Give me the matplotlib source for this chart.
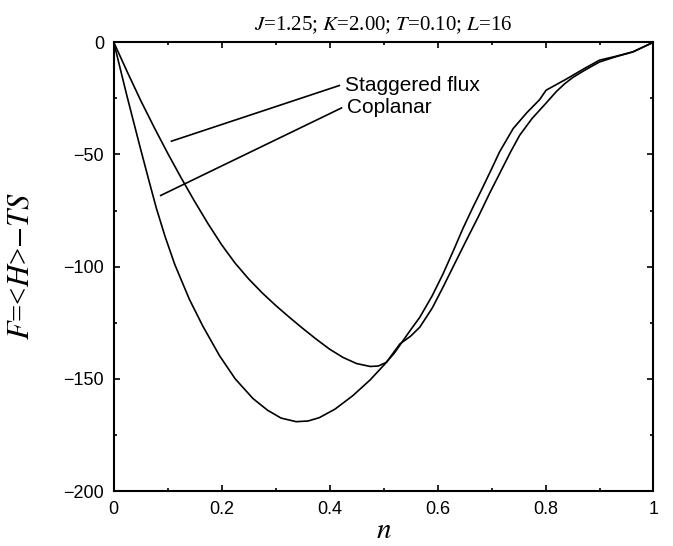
import numpy as np
import matplotlib
matplotlib.use("Agg")
import matplotlib.pyplot as plt
from matplotlib.ticker import MultipleLocator

plt.rcParams['font.family'] = ['Liberation Sans', 'DejaVu Sans']
plt.rcParams['mathtext.fontset'] = 'stix'

# free energy curves
n_stag = [0.0, 0.025, 0.05, 0.075, 0.10, 0.125, 0.15, 0.175, 0.20, 0.225,
          0.25, 0.275, 0.30, 0.325, 0.35, 0.375, 0.40, 0.425, 0.45, 0.475,
          0.49, 0.505, 0.53, 0.55, 0.567, 0.59, 0.61, 0.63, 0.653, 0.675,
          0.696, 0.715, 0.735, 0.752, 0.775, 0.80, 0.82, 0.835, 0.85, 0.869,
          0.885, 0.90, 0.93, 0.962, 1.0]
F_stag = [0.0, -13.2, -26.0, -38.0, -49.5, -60.5, -71.0, -81.0, -90.3, -98.5,
          -105.5, -111.7, -117.3, -122.5, -127.5, -132.3, -136.8, -140.5, -143.2, -144.5,
          -144.3, -142.7, -134.5, -131.0, -127.0, -118.5, -109.2, -99.5, -88.4, -78.0,
          -67.5, -58.5, -49.0, -41.5, -34.0, -27.4, -22.0, -18.6, -15.8, -13.0,
          -10.8, -8.8, -6.5, -4.3, 0.0]

n_copl = [0.0, 0.024, 0.048, 0.065, 0.079, 0.095, 0.113, 0.14, 0.165, 0.196,
          0.225, 0.258, 0.285, 0.31, 0.338, 0.36, 0.381, 0.41, 0.443, 0.475,
          0.502, 0.52, 0.536, 0.55, 0.567, 0.59, 0.61, 0.63, 0.647, 0.665,
          0.681, 0.70, 0.715, 0.74, 0.765, 0.789, 0.801, 0.838, 0.87, 0.90,
          0.93, 0.962, 1.0]
F_copl = [0.0, -23.5, -46.0, -61.5, -74.0, -86.5, -99.0, -114.5, -126.5, -139.7,
          -150.0, -158.8, -164.0, -167.5, -169.1, -168.8, -167.3, -163.5, -157.5, -150.5,
          -143.5, -138.5, -133.0, -128.2, -122.6, -113.0, -103.3, -92.5, -83.0, -73.8,
          -66.0, -56.5, -48.8, -38.5, -31.5, -25.6, -21.4, -16.5, -12.0, -8.0,
          -6.3, -4.3, 0.0]

# labels with pointer lines: (text, line start, line end)
labels = [
    ("Staggered flux", (0.107, -44.1), (0.418, -19.3)),
    ("Coplanar", (0.087, -68.3), (0.422, -29.3)),
]

fig = plt.figure(figsize=(6.73, 5.46), dpi=100)
ax = fig.add_axes([0.169, 0.1007, 0.802, 0.822])

ax.plot(n_stag, F_stag, color='black', lw=1.2)
ax.plot(n_copl, F_copl, color='black', lw=1.2)

for txt, p0, p1 in labels:
    ax.plot([p0[0], p1[0]], [p0[1], p1[1]], color='black', lw=1.2)
    ax.text(p1[0] + 0.011, p1[1], txt, fontsize=15, ha='left', va='center')

ax.set_xlim(0, 1)
ax.set_ylim(-200, 0)
ax.set_xticks([0, 0.2, 0.4, 0.6, 0.8, 1.0])
ax.set_xticklabels(['0', '0.2', '0.4', '0.6', '0.8', '1'])
ax.xaxis.set_minor_locator(MultipleLocator(0.1))
ax.yaxis.set_major_locator(MultipleLocator(50))
ax.yaxis.set_minor_locator(MultipleLocator(25))
ax.tick_params(which='both', direction='in', top=True, right=True, width=1.2)
ax.tick_params(which='major', length=4.5, pad=7, labelsize=13)
ax.tick_params(which='minor', length=2.5)
for s in ax.spines.values():
    s.set_linewidth(1.5)

ax.set_xlabel(r'$n$', fontsize=21, labelpad=-1)
ax.set_ylabel(r'$F$=<$H$>$-$$TS$', fontsize=22, family='Liberation Serif')
ax.yaxis.set_label_coords(-0.145, 0.5)
ax.set_title(r'$J$=1.25; $K$=2.00; $T$=0.10; $L$=16', fontsize=15,
             family='Liberation Serif', pad=9)

fig.savefig('out.png', dpi=100)
